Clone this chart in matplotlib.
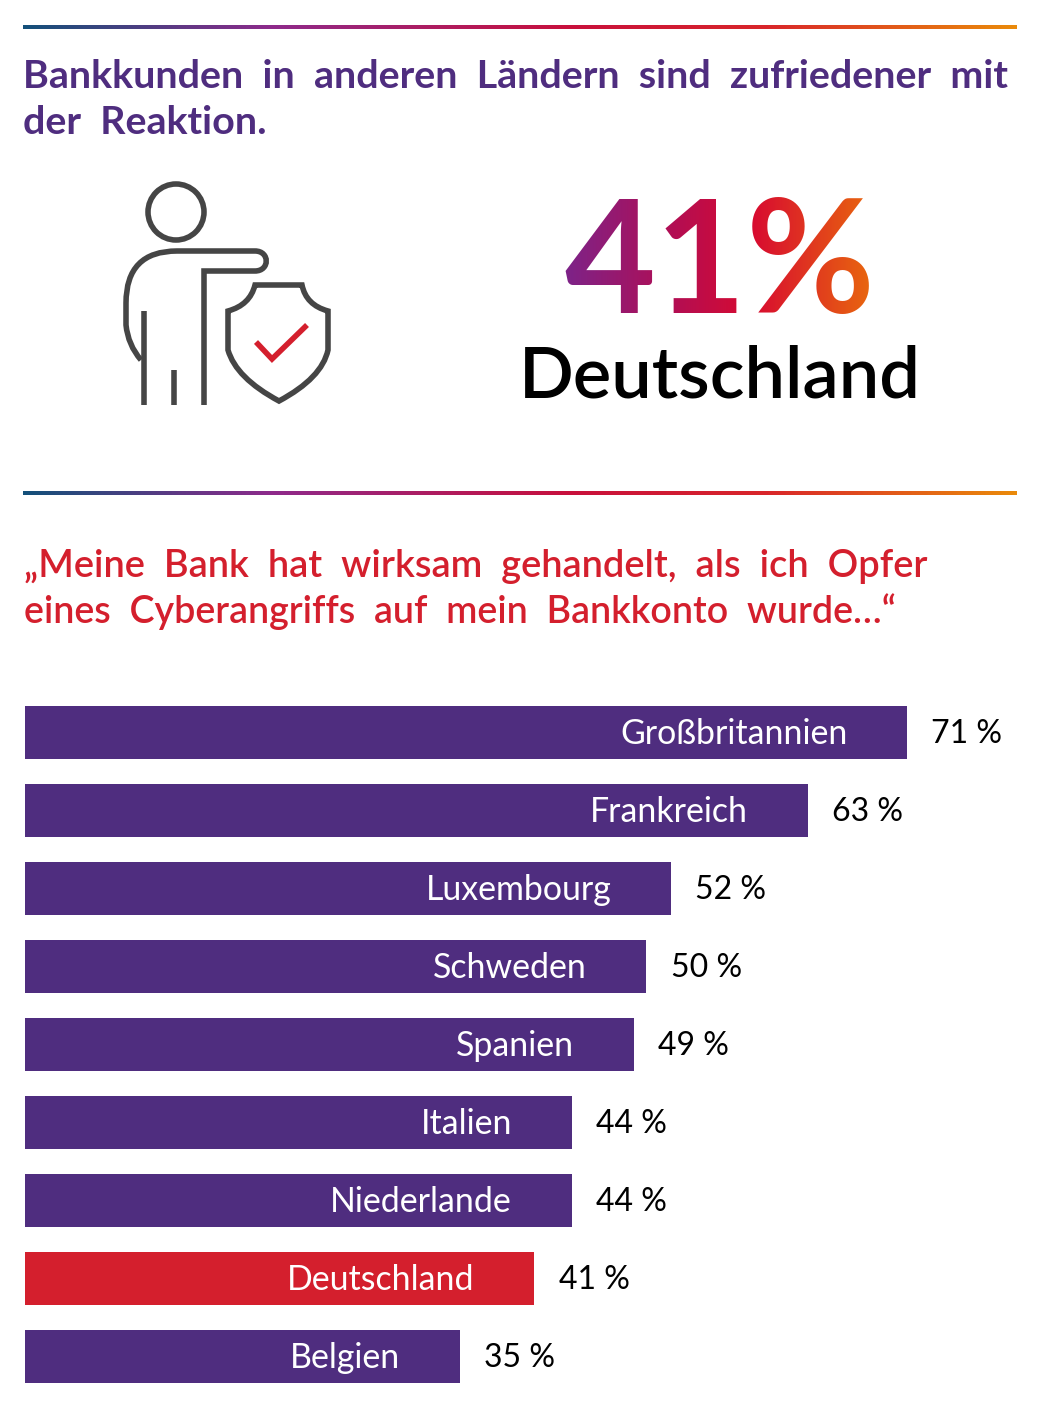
# Bankkunden: satisfaction with bank reaction by country

import numpy as np
import matplotlib
matplotlib.use("Agg")
import matplotlib.pyplot as plt
from matplotlib.colors import LinearSegmentedColormap
from matplotlib.patches import Circle, PathPatch
from matplotlib.path import Path

# -----------------------------
# Data
# -----------------------------
countries = ["Großbritannien", "Frankreich", "Luxembourg", "Schweden", "Spanien",
             "Italien", "Niederlande", "Deutschland", "Belgien"]
values = [71, 63, 52, 50, 49, 44, 44, 41, 35]
highlight = "Deutschland"

title_lines = ["Bankkunden  in  anderen  Ländern  sind  zufriedener  mit", "der  Reaktion."]
quote_lines = ["„Meine  Bank  hat  wirksam  gehandelt,  als  ich  Opfer",
               "eines  Cyberangriffs  auf  mein  Bankkonto  wurde…“"]
big_number = "41%"
big_label = "Deutschland"

# -----------------------------
# Style
# -----------------------------
W, H = 1046, 1413
PURPLE = "#4f2d7f"
RED = "#d41f2d"
GREY = "#454545"
plt.rcParams["font.family"] = ["Lato", "DejaVu Sans"]

line_cmap = LinearSegmentedColormap.from_list(
    "line", [(0, "#14507a"), (0.25, "#8e2a8b"), (0.55, "#c8103c"),
             (0.75, "#d9262a"), (1, "#ea8a0a")])
num_cmap = LinearSegmentedColormap.from_list(
    "num", [(0, "#7d2388"), (0.35, "#b20e54"), (0.62, "#d80b30"), (1, "#e8640f")])


def gradient_filter(img, dpi):
    # recolour the text ink from left to right, keep its alpha
    out = img.copy()
    g = num_cmap(np.linspace(0, 1, img.shape[1]))[:, :3]
    out[:, :, :3] = g[np.newaxis, :, :]
    return out, 0, 0


fig = plt.figure(figsize=(W / 100, H / 100), dpi=100, facecolor="white")

# overlay in pixel coordinates for the header and the icon
pg = fig.add_axes([0, 0, 1, 1])
pg.set_xlim(0, W)
pg.set_ylim(H, 0)
pg.axis("off")

for y in (27, 493):
    pg.imshow(np.linspace(0, 1, 500).reshape(1, -1), cmap=line_cmap, aspect="auto",
              extent=(23, 1017, y + 2, y - 2), zorder=2)
pg.set_xlim(0, W)
pg.set_ylim(H, 0)

pg.text(23, 76, title_lines[0], color=PURPLE, fontsize=28.35, fontweight="bold", va="center")
pg.text(23, 122, title_lines[1], color=PURPLE, fontsize=28.35, fontweight="bold", va="center")
pg.text(24, 566, quote_lines[0], color=RED, fontsize=27.4, fontweight="semibold", va="center")
pg.text(24, 612, quote_lines[1], color=RED, fontsize=27.1, fontweight="semibold", va="center")

pg.text(720, 313, big_number, fontsize=113, fontweight="bold", ha="center", va="baseline",
        color="black", agg_filter=gradient_filter)
pg.text(720, 398, big_label, color="black", fontsize=52, fontweight="semibold", ha="center",
        va="baseline")

# icon
icon = dict(fill=False, lw=4, capstyle="butt", joinstyle="miter", zorder=3)
pg.add_patch(Circle((176, 212), 28, ec=GREY, **icon))
body = Path(
    [(141, 360), (128, 345), (126, 325), (126, 303), (126, 251), (177, 251),
     (255, 251), (270, 251), (270, 271), (255, 271), (204, 271), (204, 405)],
    [Path.MOVETO, Path.CURVE3, Path.CURVE3, Path.LINETO, Path.CURVE3, Path.CURVE3,
     Path.LINETO, Path.CURVE4, Path.CURVE4, Path.CURVE4, Path.LINETO, Path.LINETO])
pg.add_patch(PathPatch(body, ec=GREY, **icon))
pg.plot([143.5, 143.5], [311, 405], color=GREY, lw=4, solid_capstyle="butt")
pg.plot([174, 174], [370, 405], color=GREY, lw=4, solid_capstyle="butt")
shield = Path(
    [(255, 285), (302, 285), (306, 305), (328, 311), (328, 350), (322, 378), (279, 401),
     (236, 378), (228, 350), (228, 311), (250, 305), (255, 285), (255, 285)],
    [Path.MOVETO, Path.LINETO, Path.CURVE3, Path.CURVE3, Path.LINETO, Path.CURVE3, Path.CURVE3,
     Path.CURVE3, Path.CURVE3, Path.LINETO, Path.CURVE3, Path.CURVE3, Path.CLOSEPOLY])
pg.add_patch(PathPatch(shield, ec=GREY, **icon))
pg.plot([256, 272, 307], [342, 359, 325], color=RED, lw=4, solid_joinstyle="miter",
        solid_capstyle="butt")

# -----------------------------
# Bars
# -----------------------------
PX_PER_PCT = 12.425
ax_left, ax_top, ax_bottom = 25, 693.5, 1395.5
ax = fig.add_axes([ax_left / W, 1 - ax_bottom / H, (W - ax_left) / W, (ax_bottom - ax_top) / H])
ax.patch.set_alpha(0)
ax.set_xlim(0, (W - ax_left) / PX_PER_PCT)
ax.set_ylim(len(countries) - 0.5, -0.5)
ax.axis("off")

pos = np.arange(len(countries))
colors = [RED if c == highlight else PURPLE for c in countries]
ax.barh(pos, values, height=53 / 78, color=colors)

for i, (c, v) in enumerate(zip(countries, values)):
    ax.annotate(c, (v, i), xytext=(-43, -1.2), textcoords="offset points", ha="right",
                va="center", color="white", fontsize=24.4)
    ax.annotate(f"{v} %", (v, i), xytext=(17.5, -1.2), textcoords="offset points", ha="left",
                va="center", color="black", fontsize=23)

fig.savefig("out.png", dpi=100)
